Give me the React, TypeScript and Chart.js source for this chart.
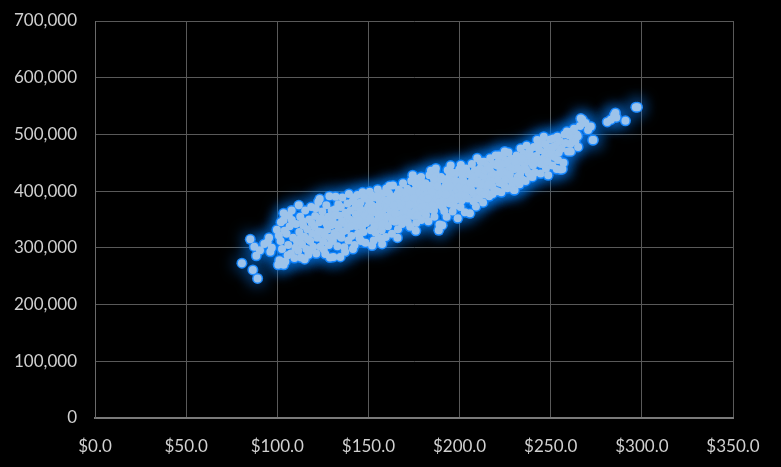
import React, { useEffect, useRef } from "react";
import { Chart, registerables } from "chart.js";

Chart.register(...registerables);

const xTickLabels = ["$0.0", "$50.0", "$100.0", "$150.0", "$200.0", "$250.0", "$300.0", "$350.0"];
const yTickLabels = ["0", "100,000", "200,000", "300,000", "400,000", "500,000", "600,000", "700,000"];

// Each entry: [price ($), value (thousands)]
const seg080: [number, number][] = [
  [80.6, 273], [85.2, 315], [87.4, 302], [88.5, 286], [86.6, 261], [89.2, 246], [92.9, 307],
  [94.7, 310], [96.2, 293], [97.0, 300], [99.8, 332], [90.5, 296], [95.5, 318],
];
const seg100: [number, number][] = [
  [100.5, 270], [101.2, 278], [102.0, 345], [103.5, 361], [103.5, 349], [104.4, 276], [103.5, 270],
  [101.8, 312], [102.6, 298], [105.1, 325], [106.0, 305], [106.8, 338], [107.5, 290], [108.0, 349],
  [108.7, 318], [109.4, 282], [104.0, 330], [106.3, 357], [109.9, 300], [100.9, 322], [105.7, 287],
  [107.9, 366],
];
const seg110: [number, number][] = [
  [110.2, 342], [110.8, 311], [111.5, 295], [112.1, 328], [112.6, 355], [113.0, 283], [113.6, 306],
  [114.2, 340], [114.8, 320], [115.3, 366], [115.9, 298], [116.4, 333], [117.0, 288], [117.5, 350],
  [118.1, 312], [118.6, 372], [119.2, 325], [119.7, 302], [111.8, 375], [113.9, 347], [116.8, 315],
  [118.9, 344], [115.0, 280], [117.8, 295], [112.9, 318],
];
const seg120: [number, number][] = [
  [120.3, 337], [120.8, 356], [121.4, 290], [121.9, 318], [122.5, 381], [123.0, 345], [123.6, 302],
  [124.1, 328], [124.7, 364], [125.2, 311], [125.8, 348], [126.3, 289], [126.9, 375], [127.4, 332],
  [128.0, 355], [128.6, 391], [129.1, 318], [129.6, 340], [121.1, 370], [122.7, 329], [124.4, 352],
  [125.5, 297], [127.1, 342], [128.3, 305], [129.8, 366], [123.3, 386], [126.0, 322], [128.9, 283],
];
const seg130: [number, number][] = [
  [130.2, 350], [130.8, 284], [131.3, 326], [131.9, 368], [132.4, 341], [133.0, 303], [133.5, 377],
  [134.1, 357], [134.6, 284], [135.2, 318], [135.7, 389], [136.3, 344], [136.8, 301], [137.4, 362],
  [137.9, 331], [138.5, 378], [139.0, 313], [139.6, 350], [130.5, 312], [132.0, 390], [133.7, 335],
  [134.9, 372], [136.0, 329], [137.2, 293], [138.2, 356], [139.3, 395], [131.6, 357], [135.5, 347],
  [138.8, 338], [132.8, 322],
];
const seg140: [number, number][] = [
  [140.2, 366], [140.7, 321], [141.3, 382], [141.8, 347], [142.4, 305], [142.9, 372], [143.5, 338],
  [144.0, 393], [144.6, 357], [145.1, 317], [145.7, 380], [146.2, 346], [146.8, 398], [147.3, 328],
  [147.9, 365], [148.4, 309], [149.0, 387], [149.5, 352], [140.5, 338], [141.5, 298], [143.1, 359],
  [144.3, 325], [145.4, 369], [146.5, 337], [147.6, 390], [148.7, 344], [149.8, 372], [142.1, 389],
  [144.8, 348], [146.0, 312], [148.1, 357], [143.8, 378],
];
const seg150: [number, number][] = [
  [150.2, 360], [150.7, 399], [151.3, 331], [151.8, 375], [152.4, 347], [152.9, 313], [153.5, 389],
  [154.0, 362], [154.6, 340], [155.1, 403], [155.7, 318], [156.2, 383], [156.8, 355], [157.3, 331],
  [157.9, 396], [158.4, 368], [159.0, 345], [159.5, 319], [150.5, 381], [151.0, 352], [152.1, 392],
  [153.2, 337], [154.3, 372], [155.4, 351], [156.5, 366], [157.6, 342], [158.7, 384], [159.8, 404],
  [151.6, 365], [153.8, 327], [155.9, 373], [157.0, 316], [158.1, 357], [159.2, 377], [154.8, 391],
  [152.0, 304], [157.5, 307],
];
const seg160: [number, number][] = [
  [160.2, 372], [160.7, 338], [161.3, 396], [161.8, 357], [162.4, 383], [162.9, 325], [163.5, 410],
  [164.0, 366], [164.6, 346], [165.1, 391], [165.7, 372], [166.2, 333], [166.8, 403], [167.3, 359],
  [167.9, 384], [168.4, 342], [169.0, 414], [169.5, 369], [160.5, 355], [161.0, 383], [162.1, 366],
  [163.2, 348], [164.3, 388], [165.4, 357], [166.5, 378], [167.6, 398], [168.7, 361], [169.8, 389],
  [161.6, 409], [163.8, 375], [165.9, 318], [167.0, 349], [168.1, 374], [169.2, 395], [164.8, 361],
  [162.7, 389], [166.0, 395], [168.9, 352],
];
const seg170: [number, number][] = [
  [170.2, 380], [170.7, 352], [171.3, 404], [171.8, 372], [172.4, 391], [172.9, 337], [173.5, 418],
  [174.0, 383], [174.6, 356], [175.1, 401], [175.7, 375], [176.2, 344], [176.8, 422], [177.3, 389],
  [177.9, 366], [178.4, 409], [179.0, 349], [179.5, 393], [170.5, 398], [171.0, 365], [172.1, 385],
  [173.2, 360], [174.3, 428], [175.4, 364], [176.5, 395], [177.6, 378], [178.7, 382], [179.8, 414],
  [171.6, 345], [173.8, 399], [175.9, 413], [177.0, 357], [178.1, 397], [179.2, 371], [174.8, 388],
  [172.6, 376], [176.0, 330], [178.9, 425],
];
const seg180: [number, number][] = [
  [180.2, 390], [180.7, 362], [181.3, 414], [181.8, 378], [182.4, 401], [182.9, 347], [183.5, 428],
  [184.0, 392], [184.6, 368], [185.1, 411], [185.7, 384], [186.2, 355], [186.8, 433], [187.3, 397],
  [187.9, 376], [188.4, 419], [189.0, 341], [189.5, 403], [180.5, 406], [181.0, 374], [182.1, 395],
  [183.2, 370], [184.3, 436], [185.4, 375], [186.5, 407], [187.6, 387], [188.7, 393], [189.8, 425],
  [181.6, 358], [183.8, 409], [185.9, 422], [187.0, 440], [188.1, 408], [189.2, 381], [184.8, 398],
  [182.6, 387], [186.0, 366], [188.6, 331],
];
const seg190: [number, number][] = [
  [190.2, 398], [190.7, 372], [191.3, 421], [191.8, 387], [192.4, 410], [192.9, 355], [193.5, 437],
  [194.0, 401], [194.6, 378], [195.1, 445], [195.7, 393], [196.2, 364], [196.8, 428], [197.3, 407],
  [197.9, 385], [198.4, 432], [199.0, 352], [199.5, 414], [190.5, 340], [191.0, 382], [192.1, 405],
  [193.2, 380], [194.3, 425], [195.4, 386], [196.5, 417], [197.6, 396], [198.7, 402], [199.8, 438],
  [191.6, 365], [193.8, 416], [195.9, 433], [197.0, 374], [198.1, 418], [199.2, 391], [194.8, 408],
  [192.6, 394],
];
const seg200: [number, number][] = [
  [200.2, 408], [200.7, 446], [201.3, 384], [201.8, 425], [202.4, 398], [202.9, 363], [203.5, 440],
  [204.0, 412], [204.6, 387], [205.1, 430], [205.7, 361], [206.2, 405], [206.8, 448], [207.3, 420],
  [207.9, 395], [208.4, 437], [209.0, 373], [209.5, 413], [200.5, 372], [201.0, 393], [202.1, 418],
  [203.2, 392], [204.3, 433], [205.4, 402], [206.5, 427], [207.6, 382], [208.7, 415], [209.7, 458],
  [201.6, 436], [203.8, 405], [205.9, 415], [207.0, 399], [208.1, 426], [209.2, 387],
];
const seg210: [number, number][] = [
  [210.2, 418], [210.6, 387], [211.3, 440], [211.8, 404], [212.4, 429], [212.9, 380], [213.5, 452],
  [214.0, 416], [214.6, 398], [215.1, 445], [215.7, 423], [216.2, 391], [216.8, 458], [217.3, 433],
  [217.9, 409], [218.4, 448], [219.0, 402], [219.5, 427], [210.5, 432], [211.0, 400], [212.1, 412],
  [213.2, 427], [214.3, 437], [215.4, 409], [216.5, 440], [217.6, 418], [218.7, 430], [219.8, 463],
  [211.6, 452], [213.8, 394], [216.0, 412], [218.1, 395],
];
const seg220: [number, number][] = [
  [220.2, 428], [220.7, 400], [221.3, 451], [221.8, 415], [222.4, 440], [222.9, 398], [223.5, 462],
  [224.0, 428], [224.6, 410], [225.1, 455], [225.7, 435], [226.2, 405], [226.8, 468], [227.3, 443],
  [227.9, 420], [228.4, 457], [229.0, 413], [229.5, 438], [220.5, 445], [221.0, 420], [222.1, 432],
  [223.2, 414], [224.3, 448], [225.4, 421], [226.5, 450], [227.6, 430], [228.7, 442], [229.8, 402],
  [221.6, 463], [224.8, 470],
];
const seg230: [number, number][] = [
  [230.2, 402], [230.7, 440], [231.3, 463], [231.8, 425], [232.4, 452], [232.9, 412], [233.5, 475],
  [234.0, 437], [234.6, 420], [235.1, 466], [235.7, 446], [236.2, 418], [236.8, 480], [237.3, 455],
  [237.9, 432], [238.4, 470], [239.0, 426], [239.5, 450], [230.5, 452], [231.0, 418], [232.1, 440],
  [233.2, 430], [234.3, 458], [236.5, 438], [238.7, 462], [240.0, 425],
];
const seg240: [number, number][] = [
  [240.3, 445], [240.8, 478], [241.4, 433], [242.0, 462], [242.6, 490], [243.2, 450], [243.8, 472],
  [244.5, 431], [245.1, 485], [245.7, 457], [246.2, 496], [246.8, 468], [247.4, 440], [248.0, 478],
  [248.6, 428], [249.2, 462], [249.8, 491], [241.0, 455], [243.5, 481], [244.8, 448], [247.0, 483],
  [248.3, 452],
];
const seg250: [number, number][] = [
  [250.3, 470], [250.9, 445], [251.5, 493], [252.1, 460], [252.7, 480], [253.3, 439], [253.7, 496],
  [254.4, 468], [255.0, 488], [255.5, 438], [256.0, 475], [256.4, 439], [257.0, 450], [257.6, 500],
  [258.2, 485], [258.9, 505], [259.5, 470], [251.2, 478], [254.0, 455],
];
const seg260: [number, number][] = [
  [260.2, 498], [260.8, 483], [261.5, 505], [262.1, 492], [262.8, 510], [263.5, 488], [264.2, 500],
  [265.0, 478], [266.1, 515], [267.4, 526], [269.0, 520], [270.5, 508], [272.0, 514], [273.0, 490],
  [273.4, 490], [261.0, 470], [264.8, 497], [266.5, 528],
];
const seg280: [number, number][] = [
  [281.0, 522], [283.0, 526], [284.8, 534], [286.0, 530], [291.0, 524], [296.7, 548], [297.6, 548],
  [285.5, 538],
];

const segments = [
  seg080, seg100, seg110, seg120, seg130, seg140, seg150, seg160, seg170, seg180,
  seg190, seg200, seg210, seg220, seg230, seg240, seg250, seg260, seg280,
];

const glowPlugin = {
  id: "glowLayer",
  beforeDatasetDraw(chart: any, args: any) {
    if (args.index !== 1) return;
    const ctx = chart.ctx;
    ctx.save();
    ctx.shadowColor = "rgba(20,130,255,1)";
    ctx.shadowBlur = 16;
  },
  afterDatasetDraw(chart: any, args: any) {
    if (args.index !== 1) return;
    chart.ctx.restore();
  },
};

export default function App() {
  const canvasRef = useRef<HTMLCanvasElement | null>(null);

  useEffect(() => {
    document.body.style.margin = "0";
    document.body.style.background = "#000";
    const canvas = canvasRef.current;
    if (!canvas) return;
    const points = segments.flat().map(([x, y]) => ({ x, y }));
    const textColor = "#d0d0d0";
    const font = { family: "Lato", size: 17 };

    const chart = new Chart(canvas, {
      type: "scatter",
      data: {
        datasets: [
          {
            label: "points",
            data: points,
            pointRadius: 4,
            pointHoverRadius: 4,
            pointBackgroundColor: "#9dc3ea",
            pointBorderWidth: 0,
            borderWidth: 0,
          },
          {
            label: "glow",
            data: points,
            pointRadius: 5.5,
            pointHoverRadius: 5.5,
            pointBackgroundColor: "#1f8cff",
            pointBorderWidth: 0,
            borderWidth: 0,
          },
        ],
      },
      options: {
        animation: false,
        responsive: false,
        maintainAspectRatio: false,
        layout: { padding: { left: 0, right: 48, top: 21, bottom: 0 } },
        plugins: {
          legend: { display: false },
          tooltip: { enabled: false },
        },
        scales: {
          x: {
            type: "linear",
            min: 0,
            max: 350,
            afterFit: (s: any) => {
              s.height = 49;
              s.paddingLeft = 0;
              s.paddingRight = 0;
            },
            ticks: {
              stepSize: 50,
              color: textColor,
              font,
              padding: 18,
              maxRotation: 0,
              callback: (_v: any, i: number) => xTickLabels[i],
            },
            grid: { color: "#595959", lineWidth: 1, drawTicks: false },
            border: { color: "#7a7a7a", width: 2 },
          },
          y: {
            type: "linear",
            min: 0,
            max: 700,
            afterFit: (s: any) => {
              s.width = 95;
              s.paddingTop = 0;
              s.paddingBottom = 0;
            },
            ticks: {
              stepSize: 100,
              color: textColor,
              font,
              padding: 18,
              callback: (_v: any, i: number) => yTickLabels[i],
            },
            grid: { color: "#595959", lineWidth: 1, drawTicks: false },
            border: { color: "#6a6a6a", width: 1 },
          },
        },
      },
      plugins: [glowPlugin],
    });
    return () => chart.destroy();
  }, []);

  return (
    <div style={{ width: 781, height: 467, background: "#000" }}>
      <canvas ref={canvasRef} width={781} height={467} style={{ display: "block" }} />
    </div>
  );
}
